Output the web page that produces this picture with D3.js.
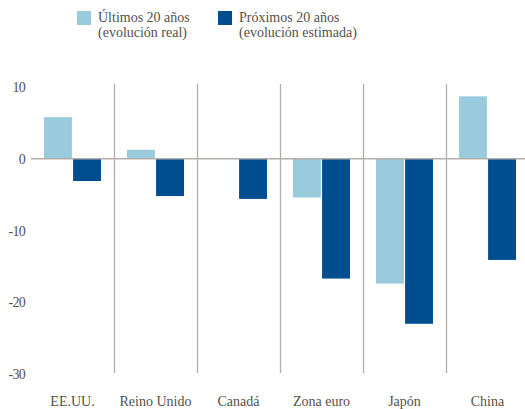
<!DOCTYPE html>
<html>
<head>
<meta charset="utf-8">
<script src="https://cdn.jsdelivr.net/npm/d3@7"></script>
<style>
  body { margin: 0; background: #fff; }
  svg { display: block; font-family: "Liberation Serif", "DejaVu Serif", serif; }
</style>
</head>
<body>
<svg id="chart"></svg>
<script>
// data
var countries = ["EE.UU.", "Reino Unido", "Canadá", "Zona euro", "Japón", "China"];
var seriesNames = ["Últimos 20 años", "Próximos 20 años"];
var seriesSub = ["(evolución real)", "(evolución estimada)"];
var pastValues = [5.8, 1.25, 0, -5.4, -17.4, 8.7];
var futureValues = [-3.1, -5.2, -5.6, -16.7, -23.0, -14.1];
var yTicks = [10, 0, -10, -20, -30];

var colors = ["#99cbdd", "#004e90"];
var gridColor = "#b3aea9";
var textColor = "#54504c";

var width = 525, height = 409;
var svg = d3.select("#chart").attr("width", width).attr("height", height);

// scales
var x = d3.scaleBand()
    .domain(countries)
    .range([31, 529])
    .paddingInner(0)
    .paddingOuter(0);

var x1 = d3.scaleBand()
    .domain([0, 1])
    .range([13, 70])
    .paddingInner(0.04);

var y = d3.scaleLinear()
    .domain([-30, 10])
    .range([374, 87]);

// vertical dividers between countries
svg.append("g")
    .selectAll("line")
    .data(countries.slice(1))
    .enter().append("line")
    .attr("x1", d => Math.round(x(d)) + 0.5)
    .attr("x2", d => Math.round(x(d)) + 0.5)
    .attr("y1", 84)
    .attr("y2", 373)
    .attr("stroke", gridColor)
    .attr("stroke-width", 1.3);

// bars
var rows = countries.map((c, i) => ({country: c, values: [pastValues[i], futureValues[i]]}));

var groups = svg.append("g")
    .selectAll("g")
    .data(rows)
    .enter().append("g")
    .attr("transform", d => "translate(" + x(d.country) + ",0)");

groups.selectAll("rect")
    .data(d => d.values.map((v, k) => ({k: k, v: v})))
    .enter().append("rect")
    .attr("x", d => x1(d.k))
    .attr("width", x1.bandwidth())
    .attr("y", d => y(Math.max(0, d.v)))
    .attr("height", d => Math.abs(y(d.v) - y(0)))
    .attr("fill", d => colors[d.k]);

// zero line
svg.append("line")
    .attr("x1", 31).attr("x2", width)
    .attr("y1", y(0)).attr("y2", y(0))
    .attr("stroke", gridColor)
    .attr("stroke-width", 1.3);

// y axis labels
svg.append("g")
    .selectAll("text")
    .data(yTicks)
    .enter().append("text")
    .attr("x", 25)
    .attr("y", d => y(d) + 5)
    .attr("text-anchor", "end")
    .attr("font-size", 14)
    .attr("letter-spacing", -0.7)
    .attr("fill", textColor)
    .text(d => d);

// category labels
svg.append("g")
    .selectAll("text")
    .data(countries)
    .enter().append("text")
    .attr("x", d => x(d) + x.bandwidth() / 2)
    .attr("y", 406)
    .attr("text-anchor", "middle")
    .attr("font-size", 14)
    .attr("fill", textColor)
    .text(d => d);

// legend
var legendX = [77, 218];
var legend = svg.append("g")
    .selectAll("g")
    .data(seriesNames)
    .enter().append("g")
    .attr("transform", (d, i) => "translate(" + legendX[i] + ",0)");

legend.append("rect")
    .attr("x", 0).attr("y", 11)
    .attr("width", 14).attr("height", 14)
    .attr("fill", (d, i) => colors[i]);

legend.append("text")
    .attr("x", 21).attr("y", 22)
    .attr("font-size", 14)
    .attr("fill", textColor)
    .text(d => d);

legend.append("text")
    .attr("x", 21).attr("y", 37)
    .attr("font-size", 14)
    .attr("fill", textColor)
    .text((d, i) => seriesSub[i]);
</script>
</body>
</html>
